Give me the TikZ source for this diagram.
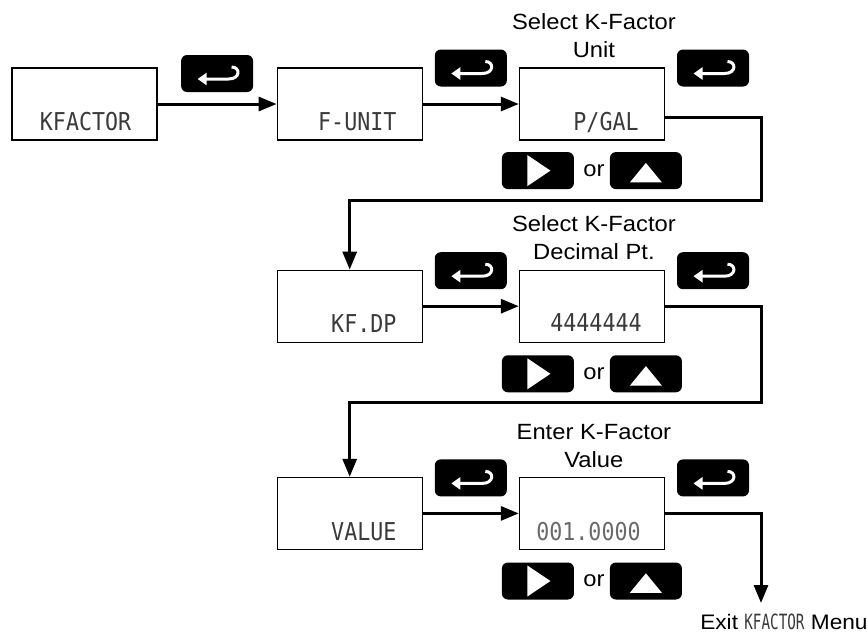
\documentclass[tikz,border=0pt]{standalone}
\usepackage{fontspec}
\setmainfont[FakeStretch=1.08]{Liberation Sans}
\newfontfamily\lcdfont[FakeStretch=0.88]{DejaVu Sans Mono}
\newfontfamily\lcdsmall[FakeStretch=0.68]{DejaVu Sans Mono}
\usetikzlibrary{positioning, calc, arrows.meta}
\definecolor{lcdGray}{HTML}{3A3A3A}
\definecolor{lcdLight}{HTML}{6A6A6A}
\tikzset{
  lcdBox/.style={rectangle, minimum width=72.5pt, minimum height=36pt, inner sep=0pt, draw=black, line width=0.6pt},
  lcdText/.style={anchor=base east, inner sep=0pt, text=lcdGray, font=\lcdfont\fontsize{12.3}{12.3}\selectfont},
  keyBtn/.style={rectangle, rounded corners=3pt, minimum width=36pt, minimum height=18.5pt, inner sep=0pt, fill=black},
  keyEnter/.style={keyBtn, path picture={
      \draw[white, sharp corners, line width=1.5pt, -{Triangle[length=4.5pt, width=6pt]}]
        ([shift={(7.25pt,3.25pt)}]path picture bounding box.center)
        .. controls ([shift={(11.75pt,3.25pt)}]path picture bounding box.center)
        and ([shift={(11.75pt,-2.75pt)}]path picture bounding box.center)
        .. ([shift={(5.75pt,-2.75pt)}]path picture bounding box.center)
        -- ([shift={(-9.75pt,-2.75pt)}]path picture bounding box.center);}},
  keyRight/.style={keyBtn, path picture={
      \fill[white, sharp corners] ([shift={(-5.25pt,7.75pt)}]path picture bounding box.center)
        -- ++(0,-15.5pt) -- ++(11.5pt,7.75pt) -- cycle;}},
  keyUp/.style={keyBtn, path picture={
      \fill[white, sharp corners] ([shift={(-8pt,-5.9pt)}]path picture bounding box.center)
        -- ++(16pt,0) -- ++(-8pt,9.75pt) -- cycle;}},
  titleText/.style={align=center, inner sep=0pt, font=\fontsize{11}{14}\selectfont},
  flowArr/.style={line width=1.5pt, -{Triangle[length=9pt, width=7pt]}},
}
\begin{document}
\begin{tikzpicture}[node distance=48pt]
\useasboundingbox (0,0) rectangle (434pt,-316pt);
% row 1
\node (kfactor) [lcdBox] at (42.25pt,-52pt) {};
\node (funit) [lcdBox, right=59.5pt of kfactor] {};
\node (pgal) [lcdBox, right=of funit] {};
% row 2
\node (kfdp) [lcdBox, below=64.5pt of funit] {};
\node (dpsel) [lcdBox, right=of kfdp] {};
% row 3
\node (value) [lcdBox, below=67pt of kfdp] {};
\node (kval) [lcdBox, right=of value] {};

\node (kfactorTxt) [lcdText] at ([shift={(-13pt,5pt)}]kfactor.south east) {KFACTOR};
\node (funitTxt) [lcdText] at ([shift={(-13pt,5pt)}]funit.south east) {F-UNIT};
\node (pgalTxt) [lcdText] at ([shift={(-13pt,5pt)}]pgal.south east) {P/GAL};
\node (kfdpTxt) [lcdText] at ([shift={(-13pt,5pt)}]kfdp.south east) {KF.DP};
\node (dpselTxt) [lcdText] at ([shift={(-11.5pt,5.5pt)}]dpsel.south east) {4444444};
\node (valueTxt) [lcdText] at ([shift={(-13pt,5pt)}]value.south east) {VALUE};
\node (kvalTxt) [lcdText, text=lcdLight] at ([shift={(-12pt,5pt)}]kval.south east) {001.0000};

\node (unitTitle) [titleText, anchor=south] at ([shift={(1pt,4.5pt)}]pgal.north) {Select K-Factor\\Unit};
\node (dpTitle) [titleText, anchor=south] at ([shift={(1pt,4.5pt)}]dpsel.north) {Select K-Factor\\Decimal Pt.};
\node (valTitle) [titleText, anchor=south] at ([shift={(1pt,4.5pt)}]kval.north) {Enter K-Factor\\Value};

\node (ent1) [keyEnter] at ($(kfactor.east)!0.5!(funit.west)+(0,15.25pt)$) {};
\node (ent2) [keyEnter] at ($(funit.east)!0.5!(pgal.west)+(0,18pt)$) {};
\node (ent3) [keyEnter] at ([shift={(24pt,18pt)}]pgal.east) {};
\node (ent4) [keyEnter] at ($(kfdp.east)!0.5!(dpsel.west)+(0,17.75pt)$) {};
\node (ent5) [keyEnter] at ([shift={(24pt,17.75pt)}]dpsel.east) {};
\node (ent6) [keyEnter] at ($(value.east)!0.5!(kval.west)+(0,17.75pt)$) {};
\node (ent7) [keyEnter] at ([shift={(24pt,17.75pt)}]kval.east) {};

\node (right1) [keyRight] at ([shift={(-27pt,-15pt)}]pgal.south) {};
\node (or1) [titleText] at ([shift={(1pt,-15pt)}]pgal.south) {or};
\node (up1) [keyUp] at ([shift={(27pt,-15pt)}]pgal.south) {};
\node (right2) [keyRight] at ([shift={(-27pt,-15.5pt)}]dpsel.south) {};
\node (or2) [titleText] at ([shift={(1pt,-15.5pt)}]dpsel.south) {or};
\node (up2) [keyUp] at ([shift={(27pt,-15.5pt)}]dpsel.south) {};
\node (right3) [keyRight] at ([shift={(-27pt,-15.5pt)}]kval.south) {};
\node (or3) [titleText] at ([shift={(1pt,-15.5pt)}]kval.south) {or};
\node (up3) [keyUp] at ([shift={(27pt,-15.5pt)}]kval.south) {};

\coordinate (turn1) at ([yshift=-30pt]pgal.south);
\coordinate (turn2) at ([yshift=-30pt]dpsel.south);
\coordinate (exitTip) at ([shift={(48pt,-26.5pt)}]kval.south east);
\node (exit) [titleText, font=\fontsize{10.5}{12}\selectfont, anchor=north east] at ([shift={(53.5pt,-5.5pt)}]exitTip) {Exit {\lcdsmall\color{lcdGray}KFACTOR} Menu};

\draw [flowArr] (kfactor) -- (funit);
\draw [flowArr] (funit) -- (pgal);
\draw [flowArr] ([yshift=-6.5pt]pgal.east) -- ++(48pt,0) |- (turn1) -| (kfdp.north);
\draw [flowArr] (kfdp) -- (dpsel);
\draw [flowArr] (dpsel.east) -- ++(48pt,0) |- (turn2) -| (value.north);
\draw [flowArr] (value) -- (kval);
\draw [flowArr] (kval.east) -| (exitTip);
\end{tikzpicture}
\end{document}
